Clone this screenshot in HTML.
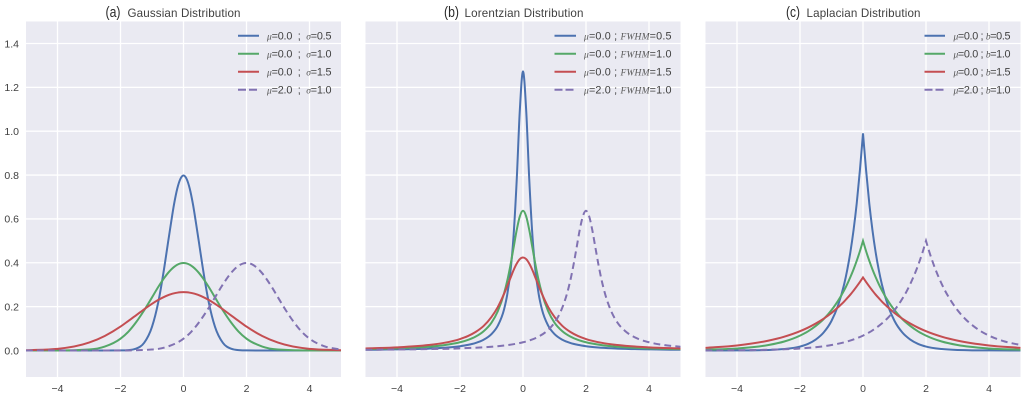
<!DOCTYPE html>
<html lang="en">
<head>
<meta charset="utf-8">
<title>Gaussian, Lorentzian and Laplacian Distributions</title>
<style>
html,body{margin:0;padding:0;background:#fff;width:1024px;height:402px;overflow:hidden}
svg{display:block;filter:blur(0.3px)}
text{font-family:"Liberation Sans",sans-serif;fill:#404040}
.tick{font-size:10.5px}
.leg{font-size:10.8px}
.m{font-family:"Liberation Serif",serif;font-style:italic;font-size:9.5px;fill:#555}
.ttl{font-size:11.6px}
.tag{font-size:14.5px;fill:#2a2a2a}
</style>
</head>
<body>
<svg id="figure" width="1024" height="402" viewBox="0 0 1024 402" xmlns="http://www.w3.org/2000/svg">
  <defs>
    <clipPath id="clip-a"><rect x="26" y="21.5" width="315" height="355.5"/></clipPath>
    <clipPath id="clip-b"><rect x="365.5" y="21.5" width="315" height="355.5"/></clipPath>
    <clipPath id="clip-c"><rect x="705.5" y="21.5" width="315" height="355.5"/></clipPath>
  </defs>
  <g id="panel-a"></g>
  <g id="panel-b"></g>
  <g id="panel-c"></g>
  <g id="y-labels"></g>

  <g>
    <text class="tag" x="105.500" y="17" textLength="15" lengthAdjust="spacingAndGlyphs">(a)</text>
    <text class="ttl" x="127.500" y="17" textLength="113" lengthAdjust="spacing">Gaussian Distribution</text>
  </g>
  <g>
    <text class="tag" x="444" y="17" textLength="15" lengthAdjust="spacingAndGlyphs">(b)</text>
    <text class="ttl" x="464.500" y="17" textLength="119" lengthAdjust="spacing">Lorentzian Distribution</text>
  </g>
  <g>
    <text class="tag" x="786" y="17" textLength="14" lengthAdjust="spacingAndGlyphs">(c)</text>
    <text class="ttl" x="806.500" y="17" textLength="114" lengthAdjust="spacing">Laplacian Distribution</text>
  </g>

  <g>
    <line x1="238" x2="259" y1="35.700" y2="35.700" stroke="#4C72B0" stroke-width="2"/>
    <line x1="238" x2="259" y1="53.700" y2="53.700" stroke="#55A868" stroke-width="2"/>
    <line x1="238" x2="259" y1="71.700" y2="71.700" stroke="#C44E52" stroke-width="2"/>
    <line x1="238" x2="259" y1="89.700" y2="89.700" stroke="#8172B2" stroke-width="2" stroke-dasharray="8 3"/>
    <text class="leg" x="267" y="39.500" textLength="64.500" lengthAdjust="spacing" xml:space="preserve"><tspan class="m">μ</tspan>=0.0  ;  <tspan class="m">σ</tspan>=0.5</text>
    <text class="leg" x="267" y="57.500" textLength="64.500" lengthAdjust="spacing" xml:space="preserve"><tspan class="m">μ</tspan>=0.0  ;  <tspan class="m">σ</tspan>=1.0</text>
    <text class="leg" x="267" y="75.500" textLength="64.500" lengthAdjust="spacing" xml:space="preserve"><tspan class="m">μ</tspan>=0.0  ;  <tspan class="m">σ</tspan>=1.5</text>
    <text class="leg" x="267" y="93.500" textLength="64.500" lengthAdjust="spacing" xml:space="preserve"><tspan class="m">μ</tspan>=2.0  ;  <tspan class="m">σ</tspan>=1.0</text>
  </g>
  <g>
    <line x1="554.500" x2="576" y1="35.700" y2="35.700" stroke="#4C72B0" stroke-width="2"/>
    <line x1="554.500" x2="576" y1="53.700" y2="53.700" stroke="#55A868" stroke-width="2"/>
    <line x1="554.500" x2="576" y1="71.700" y2="71.700" stroke="#C44E52" stroke-width="2"/>
    <line x1="554.500" x2="576" y1="89.700" y2="89.700" stroke="#8172B2" stroke-width="2" stroke-dasharray="8 3"/>
    <text class="leg" x="584" y="39.500" textLength="87.500" lengthAdjust="spacing"><tspan class="m">μ</tspan>=0.0 ; <tspan class="m">FWHM</tspan>=0.5</text>
    <text class="leg" x="584" y="57.500" textLength="87.500" lengthAdjust="spacing"><tspan class="m">μ</tspan>=0.0 ; <tspan class="m">FWHM</tspan>=1.0</text>
    <text class="leg" x="584" y="75.500" textLength="87.500" lengthAdjust="spacing"><tspan class="m">μ</tspan>=0.0 ; <tspan class="m">FWHM</tspan>=1.5</text>
    <text class="leg" x="584" y="93.500" textLength="87.500" lengthAdjust="spacing"><tspan class="m">μ</tspan>=2.0 ; <tspan class="m">FWHM</tspan>=1.0</text>
  </g>
  <g>
    <line x1="924.500" x2="945" y1="35.700" y2="35.700" stroke="#4C72B0" stroke-width="2"/>
    <line x1="924.500" x2="945" y1="53.700" y2="53.700" stroke="#55A868" stroke-width="2"/>
    <line x1="924.500" x2="945" y1="71.700" y2="71.700" stroke="#C44E52" stroke-width="2"/>
    <line x1="924.500" x2="945" y1="89.700" y2="89.700" stroke="#8172B2" stroke-width="2" stroke-dasharray="8 3"/>
    <text class="leg" x="953.500" y="39.500" textLength="57" lengthAdjust="spacing"><tspan class="m">μ</tspan>=0.0 ; <tspan class="m">b</tspan>=0.5</text>
    <text class="leg" x="953.500" y="57.500" textLength="57" lengthAdjust="spacing"><tspan class="m">μ</tspan>=0.0 ; <tspan class="m">b</tspan>=1.0</text>
    <text class="leg" x="953.500" y="75.500" textLength="57" lengthAdjust="spacing"><tspan class="m">μ</tspan>=0.0 ; <tspan class="m">b</tspan>=1.5</text>
    <text class="leg" x="953.500" y="93.500" textLength="57" lengthAdjust="spacing"><tspan class="m">μ</tspan>=2.0 ; <tspan class="m">b</tspan>=1.0</text>
  </g>
</svg>
<script>
// Tick labels
var xTicks = [-4, -2, 0, 2, 4];
var yTicks = [0.0, 0.2, 0.4, 0.6, 0.8, 1.0, 1.2, 1.4];

// Sample positions for the curves centred on 0 and for the curve centred on 2
var centredX = [-5,-4,-3,-2.5,-2,-1.75,-1.5,-1.25,-1,-0.8,-0.6,-0.5,-0.4,-0.3,-0.2,-0.1,0,0.1,0.2,0.3,0.4,0.5,0.6,0.8,1,1.25,1.5,1.75,2,2.5,3,4,5];
var shiftedX = [-5,-4,-3,-2,-1,-0.5,0,0.25,0.5,0.75,1,1.2,1.4,1.5,1.6,1.7,1.8,1.9,2,2.1,2.2,2.3,2.4,2.5,2.6,2.8,3,3.25,3.5,3.75,4,4.5,5];

// Gaussian panel
var gaussianNarrow = [0,0,0,0,0.0003,0.0017,0.0089,0.035,0.108,0.221,0.388,0.484,0.578,0.667,0.737,0.782,0.798,0.782,0.737,0.667,0.578,0.484,0.388,0.221,0.108,0.035,0.0089,0.0017,0.0003,0,0,0,0];
var gaussianMedium = [0,0.0001,0.0044,0.018,0.054,0.086,0.13,0.183,0.242,0.29,0.333,0.352,0.368,0.381,0.391,0.397,0.399,0.397,0.391,0.381,0.368,0.352,0.333,0.29,0.242,0.183,0.13,0.086,0.054,0.018,0.0044,0.0001,0];
var gaussianWide = [0.001,0.0076,0.036,0.0663,0.109,0.135,0.161,0.188,0.213,0.2307,0.2455,0.2516,0.2567,0.2607,0.2636,0.2654,0.266,0.2654,0.2636,0.2607,0.2567,0.2516,0.2455,0.2307,0.213,0.188,0.161,0.135,0.109,0.0663,0.036,0.0076,0.001];
var gaussianShifted = [0,0,0,0.0001,0.0044,0.018,0.054,0.086,0.13,0.183,0.242,0.29,0.333,0.352,0.368,0.381,0.391,0.397,0.399,0.397,0.391,0.381,0.368,0.352,0.333,0.29,0.242,0.183,0.13,0.086,0.054,0.018,0.0044];

// Lorentzian panel
var lorentzNarrow = [0.0032,0.005,0.0088,0.0126,0.0196,0.0255,0.0344,0.049,0.0749,0.113,0.188,0.255,0.358,0.522,0.776,1.098,1.273,1.098,0.776,0.522,0.358,0.255,0.188,0.113,0.0749,0.049,0.0344,0.0255,0.0196,0.0126,0.0088,0.005,0.0032];
var lorentzMedium = [0.0063,0.0098,0.0172,0.0245,0.0375,0.048,0.0637,0.0878,0.127,0.179,0.261,0.318,0.388,0.468,0.549,0.612,0.637,0.612,0.549,0.468,0.388,0.318,0.261,0.179,0.127,0.0878,0.0637,0.048,0.0375,0.0245,0.0172,0.0098,0.0063];
var lorentzWide = [0.0093,0.0144,0.025,0.035,0.0523,0.0658,0.0849,0.112,0.153,0.198,0.259,0.294,0.33,0.366,0.396,0.417,0.424,0.417,0.396,0.366,0.33,0.294,0.259,0.198,0.153,0.112,0.0849,0.0658,0.0523,0.035,0.025,0.0144,0.0093];
var lorentzShifted = [0.0032,0.0044,0.0063,0.0098,0.0172,0.0245,0.0375,0.048,0.0637,0.0878,0.127,0.179,0.261,0.318,0.388,0.468,0.549,0.612,0.637,0.612,0.549,0.468,0.388,0.318,0.261,0.179,0.127,0.0878,0.0637,0.048,0.0375,0.0245,0.0172];

// Laplacian panel
var laplaceNarrow = [0,0.0003,0.0025,0.0067,0.018,0.03,0.05,0.082,0.135,0.202,0.301,0.368,0.449,0.549,0.67,0.819,0.99,0.819,0.67,0.549,0.449,0.368,0.301,0.202,0.135,0.082,0.05,0.03,0.018,0.0067,0.0025,0.0003,0];
var laplaceMedium = [0.0034,0.0092,0.025,0.041,0.068,0.087,0.112,0.143,0.184,0.225,0.274,0.303,0.335,0.37,0.409,0.452,0.5,0.452,0.409,0.37,0.335,0.303,0.274,0.225,0.184,0.143,0.112,0.087,0.068,0.041,0.025,0.0092,0.0034];
var laplaceWide = [0.012,0.023,0.045,0.063,0.088,0.104,0.123,0.145,0.171,0.196,0.223,0.239,0.255,0.273,0.292,0.312,0.333,0.312,0.292,0.273,0.255,0.239,0.223,0.196,0.171,0.145,0.123,0.104,0.088,0.063,0.045,0.023,0.012];
var laplaceShifted = [0.0005,0.0012,0.0034,0.0092,0.025,0.041,0.068,0.087,0.112,0.143,0.184,0.225,0.274,0.303,0.335,0.37,0.409,0.452,0.5,0.452,0.409,0.37,0.335,0.303,0.274,0.225,0.184,0.143,0.112,0.087,0.068,0.041,0.025];

var SVGNS = 'http://www.w3.org/2000/svg';

function make(tag, parent) {
  var el = document.createElementNS(SVGNS, tag);
  parent.appendChild(el);
  return el;
}

// Axis functions
function yScale(v) { return 350.5 - v * 219.3; }
function xScaleFor(left) {
  return function (v) { return left + (v + 5) * 31.5; };
}

// Smooth monotone path through the scaled data; "sharp" keeps peaks as cusps
function curvePath(px, py, sharp) {
  var n = px.length, s = [], tIn = [], tOut = [], i;
  for (i = 0; i < n - 1; i++) s.push((py[i + 1] - py[i]) / (px[i + 1] - px[i]));
  tOut[0] = s[0];
  tIn[n - 1] = s[n - 2];
  for (i = 1; i < n - 1; i++) {
    if (s[i - 1] * s[i] <= 0) {
      tIn[i] = sharp ? s[i - 1] : 0;
      tOut[i] = sharp ? s[i] : 0;
      continue;
    }
    var h0 = px[i] - px[i - 1], h1 = px[i + 1] - px[i];
    var p = (s[i - 1] * h1 + s[i] * h0) / (h0 + h1);
    tIn[i] = tOut[i] = Math.sign(s[i]) * Math.min(Math.abs(s[i - 1]), Math.abs(s[i]), 0.5 * Math.abs(p)) * 2;
  }
  var d = 'M' + px[0].toFixed(2) + ' ' + py[0].toFixed(2);
  for (i = 0; i < n - 1; i++) {
    var h = (px[i + 1] - px[i]) / 3;
    d += 'C' + (px[i] + h).toFixed(2) + ' ' + (py[i] + tOut[i] * h).toFixed(2) + ' ' +
      (px[i + 1] - h).toFixed(2) + ' ' + (py[i + 1] - tIn[i + 1] * h).toFixed(2) + ' ' +
      px[i + 1].toFixed(2) + ' ' + py[i + 1].toFixed(2);
  }
  return d;
}

function drawCurve(group, xVals, yVals, xScale, color, name, dashed, sharp) {
  var path = make('path', group);
  
  
  path.setAttribute('d', curvePath(xVals.map(xScale), yVals.map(yScale), sharp));
  path.setAttribute('fill', 'none');
  path.setAttribute('stroke', color);
  path.setAttribute('stroke-width', '2');
  path.setAttribute('stroke-linejoin', 'miter');
  if (dashed) path.setAttribute('stroke-dasharray', '6.8 4.2');
}

function drawPanel(id, left, curves, sharp) {
  var panel = document.getElementById('panel-' + id);
  var xScale = xScaleFor(left);

  var bg = make('rect', panel);
  
  
  bg.setAttribute('x', left);
  bg.setAttribute('y', 21.5);
  bg.setAttribute('width', 315);
  bg.setAttribute('height', 355.5);
  bg.setAttribute('fill', '#EAEAF2');

  yTicks.forEach(function (v) {
    var g = make('line', panel);
    
    
    g.setAttribute('x1', left);
    g.setAttribute('x2', left + 315);
    g.setAttribute('y1', yScale(v));
    g.setAttribute('y2', yScale(v));
    g.setAttribute('stroke', '#fff');
    g.setAttribute('stroke-width', '1.3');
  });

  xTicks.forEach(function (v) {
    var g = make('line', panel);
    
    
    g.setAttribute('x1', xScale(v));
    g.setAttribute('x2', xScale(v));
    g.setAttribute('y1', 21.5);
    g.setAttribute('y2', 377);
    g.setAttribute('stroke', '#fff');
    g.setAttribute('stroke-width', '1.3');

    var t = make('text', panel);
    
    
    t.setAttribute('class', 'tick');
    t.setAttribute('x', xScale(v));
    t.setAttribute('y', 392);
    t.setAttribute('text-anchor', 'middle');
    t.textContent = String(v).replace('-', '\u2212');
  });

  var lines = make('g', panel);
  
  
  lines.setAttribute('clip-path', 'url(#clip-' + id + ')');

  drawCurve(lines, centredX, curves[0], xScale, '#4C72B0', 'curve-narrow', false, sharp);
  drawCurve(lines, centredX, curves[1], xScale, '#55A868', 'curve-medium', false, sharp);
  drawCurve(lines, centredX, curves[2], xScale, '#C44E52', 'curve-wide', false, sharp);
  drawCurve(lines, shiftedX, curves[3], xScale, '#8172B2', 'curve-shifted', true, sharp);
}

drawPanel('a', 26, [gaussianNarrow, gaussianMedium, gaussianWide, gaussianShifted], false);
drawPanel('b', 365.5, [lorentzNarrow, lorentzMedium, lorentzWide, lorentzShifted], false);
drawPanel('c', 705.5, [laplaceNarrow, laplaceMedium, laplaceWide, laplaceShifted], true);

var yLabels = document.getElementById('y-labels');
yTicks.forEach(function (v) {
  var t = make('text', yLabels);
  
  
  t.setAttribute('class', 'tick');
  t.setAttribute('x', 19);
  t.setAttribute('y', yScale(v) + 3.8);
  t.setAttribute('text-anchor', 'end');
  t.textContent = v.toFixed(1);
});
</script>
</body>
</html>
